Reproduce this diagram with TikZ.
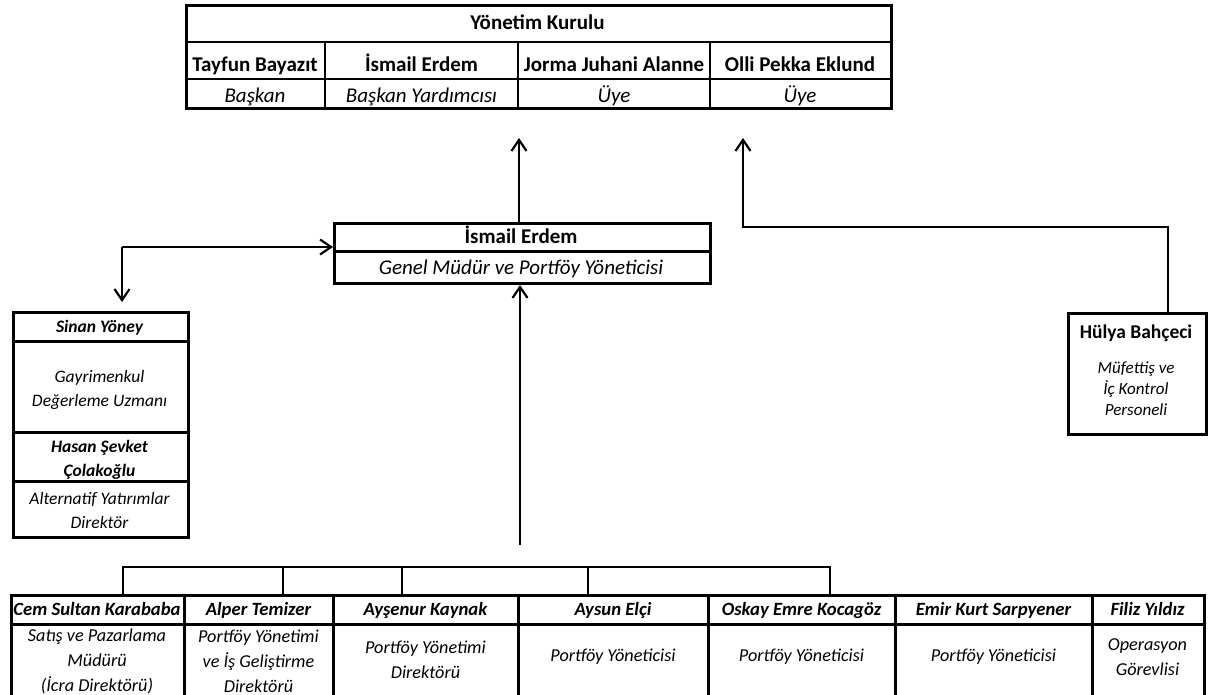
\documentclass[tikz,border=0pt]{standalone}
\usepackage{fontspec}
\setmainfont{Carlito}
\usetikzlibrary{arrows.meta}
\begin{document}
\begin{tikzpicture}[x=1pt,y=-1pt,
  box/.style={draw, line width=3pt, inner sep=0pt, anchor=north west},
  rowline/.style={line width=2.7pt},
  colline/.style={line width=1.8pt},
  thickline/.style={line width=3pt},
  conn/.style={line width=2.2pt},
  arr/.style={conn, -{Straight Barb[length=11pt,width=15pt,line width=2.2pt]}},
  txt/.style={inner sep=0pt, align=center},
  bl/.style={anchor=base},
  tb/.style={txt, font=\fontsize{21}{25}\selectfont\bfseries},
  ti/.style={txt, font=\fontsize{21}{25}\selectfont\itshape},
  lb/.style={txt, font=\fontsize{17.5}{24}\selectfont\bfseries\itshape},
  li/.style={txt, font=\fontsize{17.5}{24}\selectfont\itshape},
  hb/.style={txt, font=\fontsize{19.5}{22}\selectfont\bfseries},
  hi/.style={txt, font=\fontsize{17}{21}\selectfont\itshape},
  bb/.style={txt, font=\fontsize{18.7}{26.5}\selectfont\bfseries\itshape},
  bi/.style={txt, font=\fontsize{18.2}{25}\selectfont\itshape}
]
\useasboundingbox (0,0) rectangle (1213,695);

% ---------- Yönetim Kurulu table ----------
\node[box, minimum width=705pt, minimum height=103pt] (yk) at (185,4) {};
\draw[rowline] (185,42) -- (890,42);
\draw[rowline] (185,79) -- (890,79);
\draw[colline] (325,42) -- (325,107);
\draw[colline] (518,42) -- (518,107);
\draw[colline] (710,42) -- (710,107);
\node[tb,bl] (ykt) at (537.5,29.5) {Yönetim Kurulu};
\node[tb,bl] (n1) at (255,71.5) {Tayfun Bayazıt};
\node[tb,bl] (n2) at (421.5,71.5) {İsmail Erdem};
\node[tb,bl] (n3) at (614,71.5) {Jorma Juhani Alanne};
\node[tb,bl] (n4) at (800,71.5) {Olli Pekka Eklund};
\node[ti,bl] (r1) at (255,103) {Başkan};
\node[ti,bl] (r2) at (421.5,103) {Başkan Yardımcısı};
\node[ti,bl] (r3) at (614,103) {Üye};
\node[ti,bl] (r4) at (800,103) {Üye};

% ---------- Genel Müdür ----------
\node[box, minimum width=376pt, minimum height=60pt] (gm) at (333,222) {};
\draw[thickline] (333,252) -- (709,252);
\node[tb,bl] (gmn) at (521,243.5) {İsmail Erdem};
\node[ti,bl] (gmr) at (521,274.5) {Genel Müdür ve Portföy Yöneticisi};

% ---------- Left stack ----------
\node[box, minimum width=175pt, minimum height=225pt] (sy) at (12,311) {};
\draw[thickline] (12,341) -- (187,341);
\draw[thickline] (12,432) -- (187,432);
\draw[thickline] (12,481) -- (187,481);
\node[lb,bl] (syn) at (99.5,332.5) {Sinan Yöney};
\node[li] (syr) at (99.5,390) {Gayrimenkul\\Değerleme Uzmanı};
\node[lb] (hsn) at (99.5,460) {Hasan Şevket\\Çolakoğlu};
\node[li] (hsr) at (99.5,510) {Alternatif Yatırımlar\\Direktör};

% ---------- Hülya ----------
\node[box, minimum width=138pt, minimum height=121pt] (hy) at (1067,312) {};
\node[hb,bl] (hyn) at (1136,338.5) {Hülya Bahçeci};
\node[hi] (hyr) at (1136,389) {Müfettiş ve\\İç Kontrol\\Personeli};

% ---------- Bottom row ----------
\node[box, minimum width=1193pt, minimum height=104pt] (bot) at (10,594) {};
\draw[thickline] (10,624) -- (1203,624);
\foreach \xx in {184,333,518,708,895,1092} \draw[thickline] (\xx,594) -- (\xx,699);
\node[bb,bl] (c1) at (97,615) {Cem Sultan Karababa};
\node[bb,bl] (c2) at (258.5,615) {Alper Temizer};
\node[bb,bl] (c3) at (425.5,615) {Ayşenur Kaynak};
\node[bb,bl] (c4) at (613,615) {Aysun Elçi};
\node[bb,bl] (c5) at (801.5,615) {Oskay Emre Kocagöz};
\node[bb,bl] (c6) at (993.5,615) {Emir Kurt Sarpyener};
\node[bb,bl] (c7) at (1147.5,615) {Filiz Yıldız};
\node[bi] (d1) at (97,661) {Satış ve Pazarlama\\Müdürü\\(İcra Direktörü)};
\node[bi] (d2) at (258.5,661) {Portföy Yönetimi\\ve İş Geliştirme\\Direktörü};
\node[bi] (d3) at (425.5,660) {Portföy Yönetimi\\Direktörü};
\node[bi,bl] (d4) at (613,661) {Portföy Yöneticisi};
\node[bi,bl] (d5) at (801.5,661) {Portföy Yöneticisi};
\node[bi,bl] (d6) at (993.5,661) {Portföy Yöneticisi};
\node[bi] (d7) at (1147.5,657) {Operasyon\\Görevlisi};

% ---------- Connectors ----------
\coordinate (upL) at (519,138);
\coordinate (upR) at (743,138);
\coordinate (cR) at (743,227);
\coordinate (hTop) at (1168,312);
\draw[arr] (gm.north -| upL) -- (upL);
\draw[arr] (hTop) |- (cR) -- (upR);

\coordinate (jl) at (122,247);
\coordinate (sTip) at (122,302);
\draw[arr] (jl) -- (gm.west |- jl);
\draw[arr] (jl) -- (sTip);

\coordinate (vb) at (520,545);
\draw[arr] (vb) -- (gm.south -| vb);

\coordinate (b1) at (123,567);
\coordinate (b2) at (283,567);
\coordinate (b3) at (402,567);
\coordinate (b4) at (588,567);
\coordinate (b5) at (830,567);
\draw[conn] (b1 |- bot.north) -- (b1) -- (b5) -- (b5 |- bot.north);
\foreach \b in {b2,b3,b4} \draw[conn] (\b) -- (\b |- bot.north);
\end{tikzpicture}
\end{document}
